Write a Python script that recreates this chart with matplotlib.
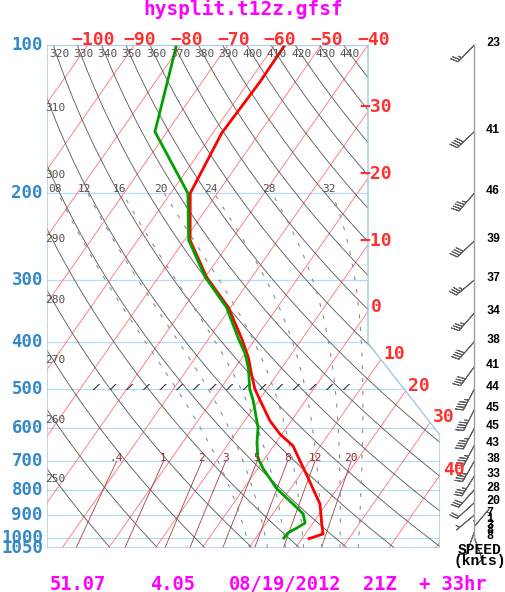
import numpy as np
import matplotlib.pyplot as plt
from matplotlib.patches import Polygon
from matplotlib.path import Path

W, H = 505, 592

# sounding (hPa, deg C)
temp_p = [100, 119, 151, 200, 249, 296, 341, 395, 431, 465, 499, 527, 579,
          616, 651, 699, 757, 815, 854, 938, 983, 1005]
temp_c = [-57.8, -57.6, -58.1, -55.8, -48.8, -39.7, -30.5, -22.9, -18.7,
          -15.6, -12.6, -9.7, -4.6, -0.5, 4.1, 7.9, 12.2, 16.1, 18.6, 22.0,
          23.8, 21.5]
dewp_p = [100, 150, 200, 249, 296, 341, 395, 423, 454, 499, 527, 598, 641,
          689, 725, 796, 854, 895, 934, 956, 979, 1002]
dewp_c = [-81.0, -72.6, -56.3, -49.1, -40.0, -30.9, -23.6, -20.0, -17.0,
          -13.7, -11.2, -6.1, -4.1, -1.6, 1.2, 7.1, 12.8, 16.5, 18.3, 17.3,
          16.1, 16.0]

# winds
wind_p = [100, 150, 200, 250, 300, 350, 400, 450, 500, 550, 600, 650, 700,
          750, 800, 850, 900, 925, 950, 975, 1000]
wind_kt = [23, 41, 46, 39, 37, 34, 38, 41, 44, 45, 45, 43, 38, 33, 28, 20,
           7, 1, 3, 8, 8]
wind_dir = [224, 227, 221, 227, 230, 221, 221, 216, 208, 207, 208, 208, 210,
            212, 222, 228, 230, 35, 40, 200, 160]

# diagram background
p_levels = [100, 200, 300, 400, 500, 600, 700, 800, 900, 1000, 1050]
isotherms = list(range(-110, 51, 10))
labelled_t = list(range(-100, 41, 10))
theta_lines = list(range(250, 441, 10))
mix_ratios = [0.4, 1, 2, 3, 5, 8, 12, 20]
mix_labels = ['.4', '1', '2', '3', '5', '8', '12', '20']
moist_lines = [8, 12, 16, 20, 24, 28, 32]
moist_labels = ['08', '12', '16', '20', '24', '28', '32']

title = 'hysplit.t12z.gfsf'
footer = ['51.07', '4.05', '08/19/2012', '21Z', '+ 33hr']
footer_x = [78, 173, 285, 380, 453]

# pixel geometry of the skew-T box
X0, DEG = 368, 4.67          # x of -40C at 100 hPa, pixels per degree
Y0 = 45
YSC = 503 / np.log(10.5)
SKEW = 150 / DEG

MONO = 'DejaVu Sans Mono'
COUR = 'Liberation Mono'


def skx(t, p):
    return np.asarray(t, float) - SKEW * np.log(np.asarray(p, float) / 100.)


def to_px(xv):
    return X0 + DEG * (np.asarray(xv) + 40)


def to_py(p):
    return Y0 + YSC * np.log(np.asarray(p, float) / 100.)


def from_px(x):
    return -40 + (x - X0) / DEG


def from_py(y):
    return 100 * np.exp((y - Y0) / YSC)


def ftext(x, y, s, **kw):
    fig.text(x / W, 1 - y / H, s, **kw)


def pseudo(tw):
    Rd, cp, Lv, eps = 287.04, 1005.7, 2.501e6, 0.622

    def dtdp(p, t):
        es = 6.112 * np.exp(17.67 * (t - 273.15) / (t - 29.65))
        rs = eps * es / (p - es)
        return (Rd * t + Lv * rs) / (p * (cp + Lv * Lv * rs * eps / (Rd * t * t)))

    res = []
    for ps in (np.linspace(1000, 200, 400), np.linspace(1000, 1050, 30)):
        t = tw + 273.15
        ts = [t]
        for p1, p2 in zip(ps[:-1], ps[1:]):
            dp = p2 - p1
            k1 = dtdp(p1, t)
            k2 = dtdp(p2, t + dp * k1)
            t = t + dp * (k1 + k2) / 2
            ts.append(t)
        res.append((ps, np.array(ts) - 273.15))
    p = np.concatenate([res[1][0][::-1], res[0][0][1:]])
    t = np.concatenate([res[1][1][::-1], res[0][1][1:]])
    return p, t


fig = plt.figure(figsize=(W / 100, H / 100), dpi=100)
ax = fig.add_axes([47 / W, 1 - 548 / H, (440 - 47) / W, (548 - 45) / H])
ax.set_yscale('log')
xl, xr = from_px(47), from_px(440)
ax.set_xlim(xl, xr)
ax.set_ylim(1050, 100)
ax.axis('off')

verts = [(xl, 100), (-40, 100), (-40, from_py(343)), (xr, from_py(435)),
         (xr, 1050), (xl, 1050)]
box = Polygon(verts, closed=True, fill=False, ec='#9cc9e8', lw=1,
              transform=ax.transData, zorder=6)
ax.add_patch(box)
px_verts = [(to_px(v[0]), to_py(v[1])) for v in verts]
box_path = Path(px_verts + [px_verts[0]], closed=True)


def clipped(*args, **kw):
    ln, = ax.plot(*args, **kw)
    ln.set_clip_path(box)
    return ln


pp = np.geomspace(100, 1050, 600)

# pressure lines
for p in p_levels:
    clipped([xl, xr], [p, p], color='#b5dcf0', lw=0.9, zorder=1)
    ftext(43, to_py(p), str(p), ha='right', va='center', color='#3288c8',
          fontsize=12.5, fontweight='bold', family=MONO)

# isotherms, labelled where they leave the box
for t in isotherms:
    clipped(skx(t, pp), pp, color='#ff7070', lw=0.6, zorder=2)
    if t not in labelled_t:
        continue
    x = to_px(skx(t, pp))
    y = to_py(pp)
    inside = box_path.contains_points(np.c_[x, y], radius=-0.5)
    k = np.where(inside)[0][0]
    ex, ey = x[k], y[k]
    lab = str(t).replace('-', '\u2212')
    if ey < 48:
        lx, ly = ex + 6, 40
    elif ex < 372:
        lx, ly = 376, ey - 5
    else:
        lx, ly = ex + 14, ey - 6
    ftext(lx, ly, lab, ha='center', va='center', color='#ff3030',
          fontsize=13, fontweight='bold', family=MONO)

# dry adiabats
for th in theta_lines:
    t = th * (pp / 1000.) ** 0.2857 - 273.15
    xs = skx(t, pp)
    clipped(xs, pp, color='#555555', lw=0.6, zorder=2)
    if xs[0] > xl:
        ftext(to_px(xs[0]) + 6, 54, str(th), ha='center', va='center',
              color='#505050', fontsize=8, family=MONO)
    else:
        pc = np.interp(xl, xs, pp)
        ftext(55, to_py(pc) + 10, str(th), ha='center', va='center',
              color='#505050', fontsize=8, family=MONO)

# mixing ratio lines
pm = np.linspace(700, 1050, 50)
for w, lab in zip(mix_ratios, mix_labels):
    e = w * pm / (622. + w)
    a = np.log(e / 6.112)
    td = 243.5 * a / (17.67 - a)
    xs = skx(td, pm)
    clipped(xs, pm, color='#a84040', lw=0.6, zorder=2)
    ftext(to_px(xs[0]), 458, lab, ha='center', va='center', color='#a02828',
          fontsize=8, family=MONO)

# moist adiabats
for tw, lab in zip(moist_lines, moist_labels):
    p, t = pseudo(tw)
    xs = skx(t, p)
    clipped(xs, p, color='#8c8c8c', lw=0.8, ls=(0, (3.5, 8)), zorder=2)
    ftext(to_px(xs[-1]) - 3, 189, lab, ha='center', va='center',
          color='#505050', fontsize=8, family=MONO)

# hatch row at 500 hPa
plt.rcParams['hatch.linewidth'] = 0.8
ax.fill_between([from_px(88), from_px(358)], from_py(384), from_py(389.5),
                facecolor='none', edgecolor='#333333', hatch='//', lw=0,
                zorder=3)

# profiles
ax.plot(skx(temp_c, temp_p), temp_p, color='#ff0000', lw=2, zorder=5)
ax.plot(skx(dewp_c, dewp_p), dewp_p, color='#00a000', lw=2, zorder=5)

# wind barbs
xs_staff = from_px(474.3)
ax.plot([xs_staff, xs_staff], [100, from_py(540)], color='#a0a0a0', lw=1,
        clip_on=False)
spd = np.array(wind_kt, float)
rad = np.radians(wind_dir)
u = -spd * np.sin(rad)
v = -spd * np.cos(rad)
bb = ax.barbs(np.full(len(wind_p), xs_staff), wind_p, u, v, length=5.8,
              color='#606060', lw=0.7, sizes=dict(emptybarb=0.02, spacing=0.12,
                                                  height=0.32))
bb.set_clip_on(False)
for p, s in zip(wind_p, wind_kt):
    ftext(486, to_py(p) - 2, str(s), ha='left', va='center', color='black',
          fontsize=8.5, fontweight='bold', family=COUR)
ftext(480, 550, 'SPEED', ha='center', va='center', fontsize=10.5,
      fontweight='bold', family=COUR)
ftext(480, 561, '(knts)', ha='center', va='center', fontsize=10.5,
      fontweight='bold', family=COUR)

# title and footer
ftext(243, 9, title, ha='center', va='center', color='#ff00ff', fontsize=14,
      fontweight='bold', family=MONO)
for s, x in zip(footer, footer_x):
    ftext(x, 584, s, ha='center', va='center', color='#ff00ff', fontsize=13.5,
          fontweight='bold', family=MONO)

fig.savefig('out.png', dpi=100)
